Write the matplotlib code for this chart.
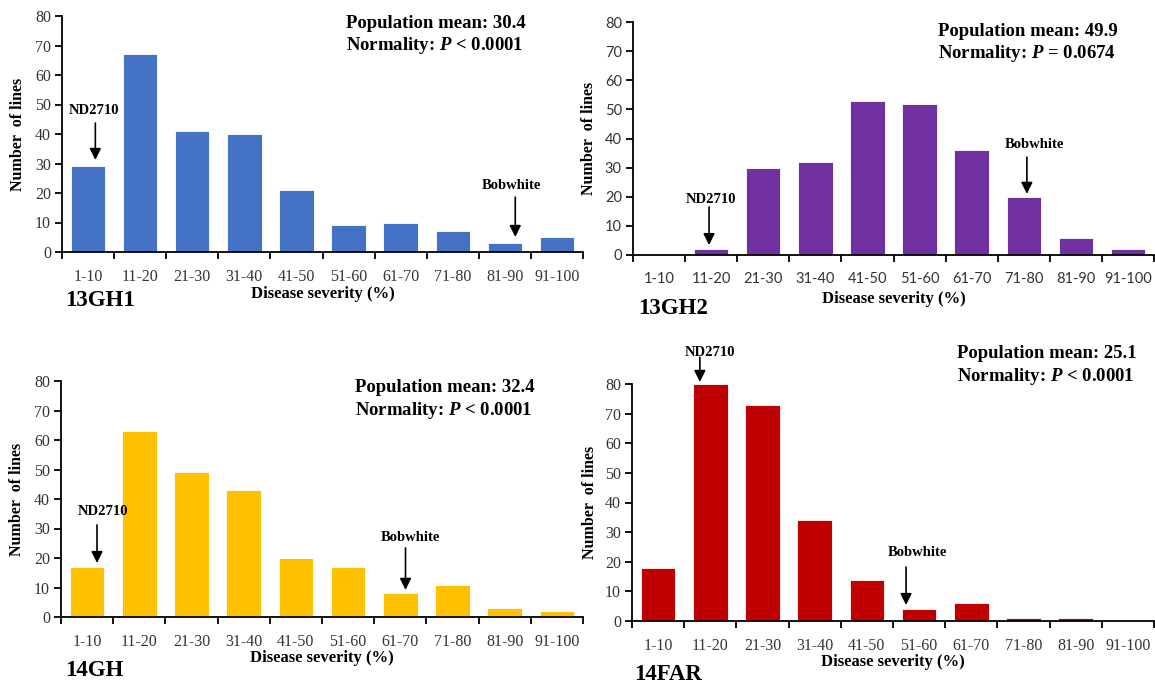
import matplotlib
matplotlib.use('Agg')
import matplotlib.pyplot as plt
import numpy as np

categories = ['1-10', '11-20', '21-30', '31-40', '41-50', '51-60', '61-70', '71-80', '81-90', '91-100']

gh1_counts = [29, 67, 41, 40, 21, 9, 10, 7, 3, 5]
gh2_counts = [0, 2, 30, 32, 53, 52, 36, 20, 6, 2]
gh14_counts = [17, 63, 49, 43, 20, 17, 8, 11, 3, 2]
far_counts = [18, 80, 73, 34, 14, 4, 6, 1, 1, 0]

panel_names = ['13GH1', '13GH2', '14GH', '14FAR']
pop_means = ['30.4', '49.9', '32.4', '25.1']
normality = ['< 0.0001', '= 0.0674', '< 0.0001', '< 0.0001']

W, H = 1155, 683
fig = plt.figure(figsize=(W / 100, H / 100), dpi=100)

serif = 'Liberation Serif'


def px_axes(left, bottom, width, height):
    return fig.add_axes([left / W, 1 - bottom / H, width / W, height / H])


def draw_panel(box, counts, color, name, name_xy, mean, norm, stat_xy,
               nd_pos, bob_pos, xlab_y, ylab_x, tick_font):
    left, bottom, width, height = box
    ax = px_axes(left, bottom, width, height)
    x = np.arange(len(categories))
    ax.bar(x, counts, width=0.66, color=color, edgecolor='white', linewidth=0.6, zorder=2)
    ax.set_xlim(-0.5, 9.5)
    ax.set_ylim(0, 80)
    for s in ['top', 'right']:
        ax.spines[s].set_visible(False)
    for s in ['left', 'bottom']:
        ax.spines[s].set_linewidth(1.3)
    ax.set_yticks(range(0, 81, 10))
    ax.set_xticks(x)
    ax.set_xticklabels(categories)
    ax.set_xticks(np.arange(-0.5, 10, 1.0), minor=True)
    ax.tick_params(axis='x', which='major', length=0, pad=12)
    ax.tick_params(axis='x', which='minor', length=5, width=1.3, direction='out')
    ax.tick_params(axis='y', length=5, width=1.3, pad=3)
    for lab in ax.get_xticklabels() + ax.get_yticklabels():
        lab.set_fontfamily(tick_font)
        lab.set_fontsize(11.5 if tick_font == serif else 10.5)
        lab.set_color('#333333')

    # axis titles
    ax.text(0.5, -(xlab_y - bottom) / height, 'Disease severity (%)', transform=ax.transAxes,
            ha='center', va='center', fontsize=12, fontweight='bold', family=serif)
    fig.text(ylab_x / W, 1 - (bottom - height / 2) / H, 'Number  of lines', rotation=90,
             ha='center', va='center', fontsize=11.5, fontweight='bold', family=serif)
    fig.text(name_xy[0] / W, 1 - name_xy[1] / H, name, ha='left', va='center',
             fontsize=16.5, fontweight='bold', family=serif)

    # stats
    sx = (stat_xy[0] - left) / width
    sy1 = (bottom - stat_xy[1]) / height
    sy2 = (bottom - stat_xy[2]) / height
    ax.text(sx, sy1, 'Population mean: ' + mean, transform=ax.transAxes, ha='left', va='center',
            fontsize=13.5, fontweight='bold', family=serif, clip_on=False)
    ax.text(sx, sy2, r'Normality: $\mathbfit{P}$' + ' ' + norm, transform=ax.transAxes,
            ha='left', va='center', fontsize=13.5, fontweight='bold', family=serif, clip_on=False)

    # cultivar arrows
    for label, (tx, ty, ay0, ay1, axx) in [('ND2710', nd_pos), ('Bobwhite', bob_pos)]:
        ax.text(tx, ty, label, ha='center', va='center', fontsize=10.5, fontweight='bold',
                family=serif, clip_on=False, zorder=4)
        ax.annotate('', xy=(axx, ay1), xytext=(axx, ay0),
                    arrowprops=dict(arrowstyle='-|>', color='black', lw=1.2, mutation_scale=17,
                                    shrinkA=0, shrinkB=0),
                    annotation_clip=False, zorder=3)
    return ax


plt.rcParams['mathtext.fontset'] = 'custom'
plt.rcParams['mathtext.bfit'] = 'Liberation Serif:bold:italic'

draw_panel((62, 252, 521, 236), gh1_counts, '#4472C4', panel_names[0], (65, 301),
           pop_means[0], normality[0], (346, 23, 45),
           (0.12, 48, 43.7, 31.2, 0.14), (8.12, 22.7, 18.6, 5.1, 8.2), 294, 18, serif)
draw_panel((633, 255, 521, 233), gh2_counts, '#7030A0', panel_names[1], (638, 308),
           pop_means[1], normality[1], (938, 32, 54),
           (1.0, 19.2, 16.5, 3.4, 0.96), (7.2, 38.1, 33.6, 21.0, 7.06), 299, 589, 'Lato')
draw_panel((61, 617, 522, 236), gh14_counts, '#FFC000', panel_names[2], (65, 670),
           pop_means[2], normality[2], (355, 387, 410),
           (0.3, 35.9, 31.2, 18.3, 0.19), (6.2, 26.8, 23.4, 9.2, 6.1), 658, 17, serif)
draw_panel((632, 621, 522, 237), far_counts, '#C00000', panel_names[3], (634, 674),
           pop_means[3], normality[3], (957, 353, 376),
           (0.99, 90.8, 89.0, 80.7, 0.8), (4.96, 23.0, 18.2, 5.4, 4.75), 662, 590, serif)

plt.savefig('out.png', dpi=100)
